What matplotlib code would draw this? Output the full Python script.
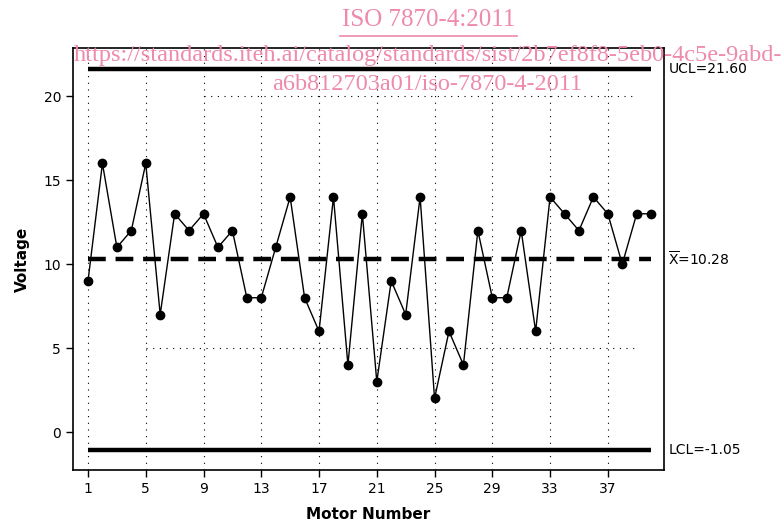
import matplotlib
matplotlib.use("Agg")
from matplotlib import pyplot as plt

# motor voltage readings, individuals chart
motor = list(range(1, 41))
voltage = [9, 16, 11, 12, 16, 7, 13, 12, 13, 11,
           12, 8, 8, 11, 14, 8, 6, 14, 4, 13,
           3, 9, 7, 14, 2, 6, 4, 12, 8, 8,
           12, 6, 14, 13, 12, 14, 13, 10, 13, 13]
ucl = 21.60
center = 10.28
lcl = -1.05
xticks = [1, 5, 9, 13, 17, 21, 25, 29, 33, 37]
yticks = [0, 5, 10, 15, 20]

pink = "#ef8aaa"

fig = plt.figure(figsize=(7.83, 5.24), dpi=100)
ax = fig.add_axes([0.0932, 0.103, 0.755, 0.805])

# dotted grid (minitab style)
for xv in xticks:
    ax.axvline(xv, color="black", lw=0.8, ls=(0, (1, 5)), zorder=0)
ax.hlines(20, 9, 39, color="black", lw=0.8, ls=(0, (1, 5)), zorder=0)
ax.hlines(5, 5, 39, color="black", lw=0.8, ls=(0, (1, 5)), zorder=0)

# control limits and center line
ax.hlines([ucl, lcl], 1, 40, color="black", lw=3.2, zorder=2)
ax.hlines(center, 1, 40, color="black", lw=3.2, ls=(0, (4, 2.2)), zorder=2)

ax.plot(motor, voltage, color="black", lw=1, marker="o", ms=6, zorder=3)

ax.set_xlim(-0.04, 40.9)
ax.set_ylim(-2.26, 22.86)
ax.set_xticks(xticks)
ax.set_yticks(yticks)
ax.tick_params(direction="out", length=5, width=1, labelsize=10)
for s in ax.spines.values():
    s.set_linewidth(1.2)

ax.set_xlabel("Motor Number", fontsize=11, fontweight="bold", labelpad=8)
ax.set_ylabel("Voltage", fontsize=11, fontweight="bold", labelpad=10)

# limit labels to the right of the plot
ax.text(41.2, ucl, "UCL=21.60", fontsize=10, va="center", ha="left", clip_on=False)
ax.text(41.2, center, r"$\overline{\mathrm{X}}$=10.28", fontsize=10, va="center", ha="left", clip_on=False)
ax.text(41.2, lcl, "LCL=-1.05", fontsize=10, va="center", ha="left", clip_on=False)

# watermark
serif = ["Liberation Serif", "DejaVu Serif"]
fig.text(0.547, 0.962, "ISO 7870-4:2011", color=pink, fontsize=18,
         family=serif, ha="center", va="center")
fig.add_artist(plt.Line2D([0.434, 0.660], [0.932, 0.932], color=pink, lw=1.2))
fig.text(0.547, 0.895, "https://standards.iteh.ai/catalog/standards/sist/2b7ef8f8-5eb0-4c5e-9abd-",
         color=pink, fontsize=17.5, family=serif, ha="center", va="center")
fig.text(0.545, 0.838, "a6b812703a01/iso-7870-4-2011", color=pink, fontsize=17.5,
         family=serif, ha="center", va="center")

fig.savefig("out.png", dpi=100)
